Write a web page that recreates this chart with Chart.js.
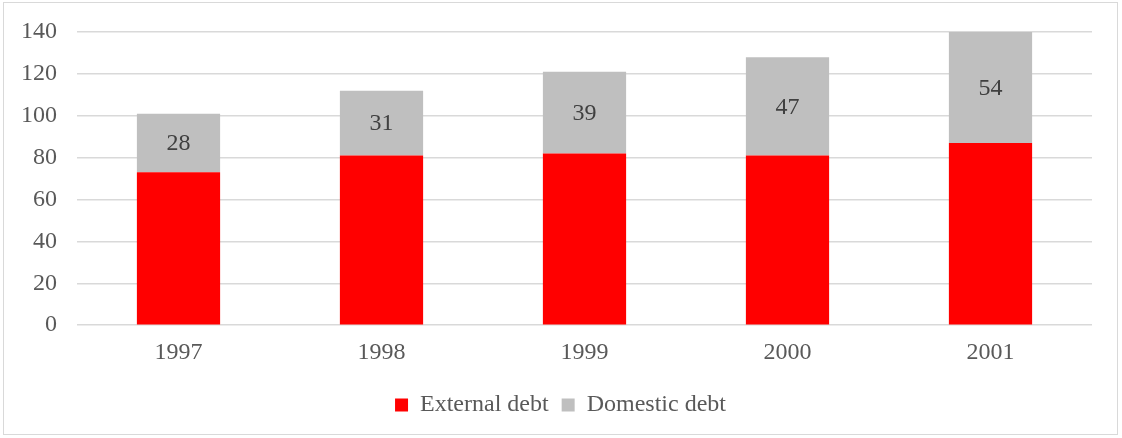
<!DOCTYPE html>
<html>
<head>
<meta charset="utf-8">
<script src="https://cdn.jsdelivr.net/npm/chart.js@4/dist/chart.umd.min.js"></script>
<style>
  html, body { margin: 0; padding: 0; background: #fff; }
  #wrap {
    position: absolute; left: 3px; top: 2px;
    width: 1115px; height: 433px;
    border: 1px solid #d9d9d9; box-sizing: border-box;
  }
  canvas { position: absolute; left: 0; top: 0; }
</style>
</head>
<body>
<div id="wrap"><canvas id="myChart" width="1113" height="431"></canvas></div>
<script>
const years = ["1997", "1998", "1999", "2000", "2001"];
const externalDebt = [73, 81, 82, 81, 87];
const domesticDebt = [28, 31, 39, 47, 54];

const FONT = "'Liberation Serif', 'Times New Roman', serif";
const SIZE = 24;

// write the value in the middle of each grey segment (kept inside the plot area)
const segmentLabels = {
  id: "segmentLabels",
  afterDatasetsDraw(chart) {
    const { ctx, chartArea } = chart;
    const meta = chart.getDatasetMeta(1);
    ctx.save();
    ctx.font = SIZE + "px " + FONT;
    ctx.fillStyle = "#404040";
    ctx.textAlign = "center";
    ctx.textBaseline = "middle";
    meta.data.forEach((bar, i) => {
      const top = Math.max(bar.y, chartArea.top);
      const mid = (top + bar.base) / 2;
      ctx.fillText(String(domesticDebt[i]), bar.x, mid + 1);
    });
    ctx.restore();
  },
};

const ctx = document.getElementById("myChart").getContext("2d");
const myChart = new Chart(ctx, {
  type: "bar",
  data: {
    labels: years,
    datasets: [
      { label: "External debt", data: externalDebt, backgroundColor: "#ff0000" },
      { label: "Domestic debt", data: domesticDebt, backgroundColor: "#bfbfbf" },
    ],
  },
  options: {
    responsive: false,
    animation: false,
    events: [],
    layout: { padding: { left: 0, right: 0, top: 29, bottom: 7 } },
    datasets: {
      bar: { categoryPercentage: 1, barPercentage: 0.41 },
    },
    scales: {
      x: {
        stacked: true,
        grid: { display: false },
        border: { display: false },
        ticks: { color: "#595959", font: { family: FONT, size: SIZE }, padding: 5 },
        afterFit(scale) { scale.height += 8; },
      },
      y: {
        stacked: true,
        min: 0,
        max: 140,
        ticks: { stepSize: 20, color: "#595959", font: { family: FONT, size: SIZE }, padding: 20 },
        grid: { color: "#d9d9d9", lineWidth: 1.5, drawTicks: false },
        border: { display: false },
        afterFit(scale) {
          scale.width = 73;
          scale.paddingTop = 0;
          scale.paddingBottom = 0;
        },
      },
      // empty right-hand gutter so the legend stays centred on the whole canvas
      gutter: {
        position: "right",
        grid: { display: false },
        ticks: { display: false },
        border: { display: false },
        afterFit(scale) {
          scale.width = 25;
          scale.paddingTop = 0;
          scale.paddingBottom = 0;
        },
      },
    },
    plugins: {
      legend: {
        position: "bottom",
        labels: {
          color: "#595959",
          font: { family: FONT, size: SIZE },
          boxWidth: 13,
          boxHeight: 13,
          padding: 13,
        },
      },
      tooltip: { enabled: false },
    },
  },
  plugins: [segmentLabels],
});
</script>
</body>
</html>
